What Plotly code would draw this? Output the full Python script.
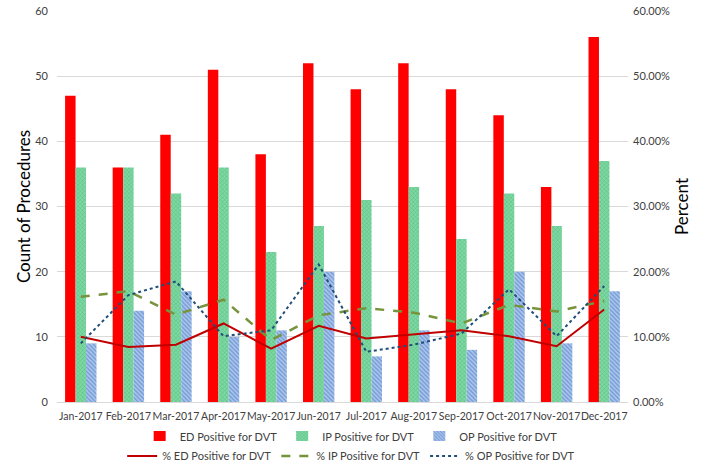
import plotly.graph_objects as go

months = ["Jan-2017", "Feb-2017", "Mar-2017", "Apr-2017", "May-2017", "Jun-2017",
          "Jul-2017", "Aug-2017", "Sep-2017", "Oct-2017", "Nov-2017", "Dec-2017"]
ed_count = [47, 36, 41, 51, 38, 52, 48, 52, 48, 44, 33, 56]
ip_count = [36, 36, 32, 36, 23, 27, 31, 33, 25, 32, 27, 37]
op_count = [9, 14, 17, 10, 11, 20, 7, 11, 8, 20, 9, 17]
ed_pct = [10.0, 8.45, 8.8, 12.05, 8.2, 11.7, 9.75, 10.4, 11.0, 10.1, 8.55, 14.2]
ip_pct = [16.15, 17.0, 13.4, 15.7, 9.5, 13.3, 14.4, 13.7, 12.05, 14.9, 13.9, 15.5]
op_pct = [9.0, 16.4, 18.5, 10.1, 11.0, 21.1, 7.7, 8.8, 10.5, 17.3, 10.1, 17.8]

FONT = "Lato"
fig = go.Figure()

fig.add_trace(go.Bar(x=months, y=ed_count, name="ED Positive for DVT",
                     marker=dict(color="#FF0000", line=dict(width=0)), legend="legend"))
fig.add_trace(go.Bar(x=months, y=ip_count, name="IP Positive for DVT",
                     marker=dict(color="#5CC98A", line=dict(width=0),
                                 pattern=dict(shape="x", fgcolor="#2EAD5F", bgcolor="#7FD7A3",
                                              size=3, solidity=0.35)), legend="legend"))
fig.add_trace(go.Bar(x=months, y=op_count, name="OP Positive for DVT",
                     marker=dict(color="#6E9BD6", line=dict(width=0),
                                 pattern=dict(shape="\\", fgcolor="#3D70C2", bgcolor="#AFC8EC",
                                              size=3, solidity=0.5)), legend="legend"))

fig.add_trace(go.Scatter(x=months, y=[v / 100 for v in ed_pct], name="% ED Positive for DVT",
                         mode="lines", line=dict(color="#C00000", width=2), yaxis="y2",
                         legend="legend2"))
fig.add_trace(go.Scatter(x=months, y=[v / 100 for v in ip_pct], name="% IP Positive for DVT",
                         mode="lines", line=dict(color="#77933C", width=2.5, dash="dash"),
                         yaxis="y2", legend="legend2"))
fig.add_trace(go.Scatter(x=months, y=[v / 100 for v in op_pct], name="% OP Positive for DVT",
                         mode="lines", line=dict(color="#1F4E79", width=2, dash="dot"),
                         yaxis="y2", legend="legend2"))

fig.update_layout(
    width=708, height=470,
    margin=dict(l=57, r=80, t=11, b=68, autoexpand=False),
    paper_bgcolor="white", plot_bgcolor="white",
    font=dict(family=FONT, size=11, color="#404040"),
    barmode="group", bargap=0.34, bargroupgap=0,
    xaxis=dict(showgrid=False, showline=True, linecolor="#D9D9D9", ticks="",
               tickangle=0, automargin=False, ticklabelstandoff=4,
               tickfont=dict(size=10.5, color="#404040")),
    yaxis=dict(range=[0, 60], dtick=10, showgrid=True, gridcolor="#D9D9D9",
               zeroline=False, ticks="", automargin=False, ticklabelstandoff=8,
               title=dict(text="Count of Procedures", font=dict(size=17, color="#000000"),
                          standoff=0)),
    yaxis2=dict(range=[0, 0.6], dtick=0.1, tickformat=".2%", overlaying="y", side="right",
                showgrid=False, zeroline=False, ticks="", automargin=False,
                ticklabelstandoff=4,
                title=dict(text="Percent", font=dict(size=17, color="#000000"), standoff=6)),
    legend=dict(orientation="h", xref="container", yref="container", x=0.496, y=0.0702,
                xanchor="center", yanchor="middle", font=dict(size=11, color="#404040"),
                itemwidth=30, traceorder="normal"),
    legend2=dict(orientation="h", xref="container", yref="container", x=0.496, y=0.0298,
                 xanchor="center", yanchor="middle", font=dict(size=11, color="#404040"),
                 itemwidth=30, traceorder="normal"),
)

fig.write_html("out.html", config={"displayModeBar": False},
               post_script="document.body.style.margin='0';")
